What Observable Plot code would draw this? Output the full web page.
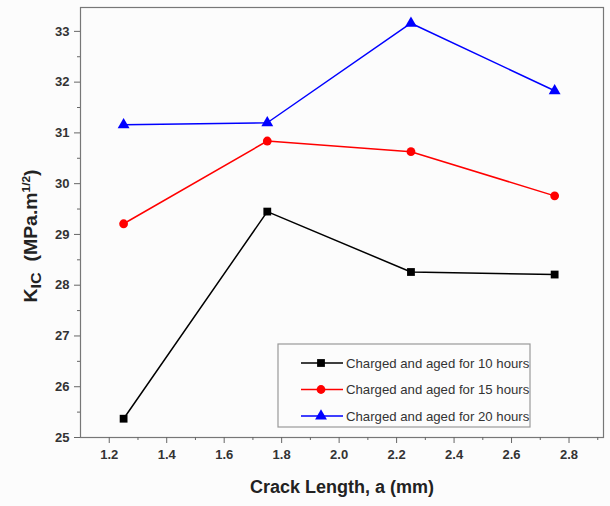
<!DOCTYPE html>
<html>
<head>
<meta charset="utf-8">
<script src="https://cdn.jsdelivr.net/npm/d3@7"></script>
<script src="https://cdn.jsdelivr.net/npm/@observablehq/plot@0.6"></script>
<style>
  html, body { margin: 0; padding: 0; background: #fcfcfc; }
  #chart { position: relative; width: 610px; height: 506px; }
</style>
</head>
<body>
<div id="chart"></div>
<script>
const crackLength = [1.25, 1.75, 2.25, 2.75];
const series = ["Charged and aged for 10 hours", "Charged and aged for 15 hours", "Charged and aged for 20 hours"];
const kic10 = [25.37, 29.45, 28.26, 28.21];
const kic15 = [29.21, 30.84, 30.63, 29.76];
const kic20 = [31.16, 31.2, 33.16, 31.83];
const colors = ["#000000", "#ff0000", "#0000ff"];
const symbols = ["square", "circle", "triangle"];
const xTicks = [1.2, 1.4, 1.6, 1.8, 2.0, 2.2, 2.4, 2.6, 2.8];
const xMinor = [1.3, 1.5, 1.7, 1.9, 2.1, 2.3, 2.5, 2.7, 2.9];
const yTicks = [25, 26, 27, 28, 29, 30, 31, 32, 33];
const yMinor = [25.5, 26.5, 27.5, 28.5, 29.5, 30.5, 31.5, 32.5];
const xLabel = "Crack Length, a (mm)";

const values = [kic10, kic15, kic20];
const data = [];
series.forEach((s, i) => crackLength.forEach((x, j) => data.push({series: s, x, y: values[i][j], idx: i})));

const chart = Plot.plot({
  width: 610, height: 506,
  marginLeft: 80, marginRight: 7, marginTop: 7, marginBottom: 69,
  style: {background: "#fcfcfc", fontFamily: "'Liberation Sans', Arial, sans-serif", color: "#333"},
  x: {domain: [1.1, 2.92]},
  y: {domain: [25, 33.47]},
  color: {domain: series, range: colors},
  symbol: {domain: series, range: symbols},
  marks: [
    Plot.frame({stroke: "#777", strokeWidth: 1.2}),
    Plot.axisX({ticks: xTicks, tickSize: 6, tickPadding: 6, tickFormat: d3.format(".1f"), label: null, fontWeight: "bold", fontSize: 13, stroke: "#666"}),
    Plot.axisX({ticks: xMinor, tickSize: 3, tickFormat: () => "", label: null, stroke: "#666"}),
    Plot.axisY({ticks: yTicks, tickSize: 6, tickPadding: 5, tickFormat: d3.format("d"), label: null, fontWeight: "bold", fontSize: 13, stroke: "#666"}),
    Plot.axisY({ticks: yMinor, tickSize: 3, tickFormat: () => "", label: null, stroke: "#666"}),
    Plot.line(data, {x: "x", y: "y", z: "series", stroke: "series", strokeWidth: 1.5}),
    Plot.dot(data, {x: "x", y: "y", symbol: "series", fill: "series", stroke: "none", r: 4.4}),
    Plot.text([xLabel], {frameAnchor: "bottom", dy: 55, fontSize: 18, fontWeight: "bold", fill: "#222"})
  ]
});
document.getElementById("chart").appendChild(chart);

const svg = d3.select(chart);
// Y axis label with subscript and superscript
const yl = svg.append("text")
  .attr("transform", "translate(37,236) rotate(-90) scale(1.08,1)")
  .attr("text-anchor", "middle")
  .attr("font-size", 18).attr("font-weight", "bold").attr("fill", "#222");
yl.append("tspan").text("K");
yl.append("tspan").attr("dy", 4).attr("font-size", 15).text("IC");
yl.append("tspan").attr("dy", -4).text("\u00a0 (MPa.m");
yl.append("tspan").attr("dy", -7).attr("font-size", 11).text("1/2");
yl.append("tspan").attr("dy", 7).text(")");

// Legend
const lg = svg.append("g").attr("transform", "translate(278,344)");
lg.append("rect").attr("width", 252).attr("height", 83).attr("fill", "#fcfcfc").attr("stroke", "#999").attr("stroke-width", 1.2);
series.forEach((s, i) => {
  const y = 19 + i * 26.5;
  lg.append("line").attr("x1", 23).attr("x2", 65).attr("y1", y).attr("y2", y).attr("stroke", colors[i]).attr("stroke-width", 1.5);
  const type = [d3.symbolSquare, d3.symbolCircle, d3.symbolTriangle][i];
  lg.append("path").attr("d", d3.symbol(type, 4.4 * 4.4 * Math.PI)()).attr("transform", `translate(43,${y})`).attr("fill", colors[i]);
  lg.append("text").attr("x", 68).attr("y", y).attr("dy", "0.35em").attr("text-anchor", "start")
    .attr("font-size", 13.2).attr("fill", "#333").text(s);
});
</script>
</body>
</html>
